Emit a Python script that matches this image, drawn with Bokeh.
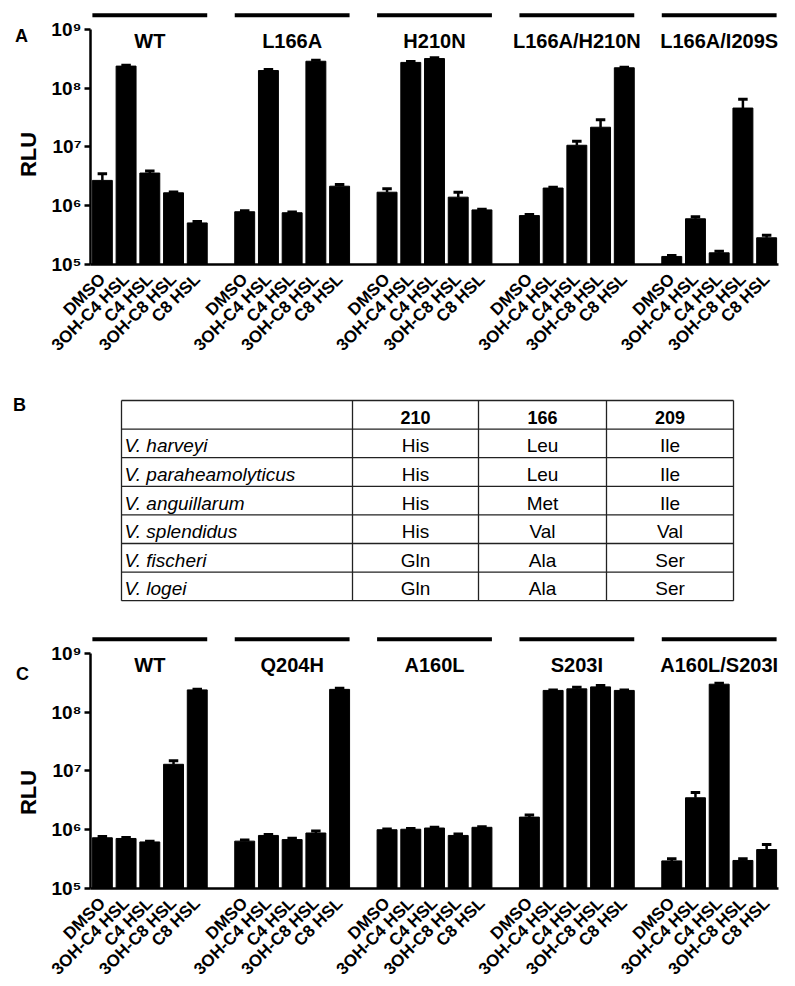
import math
from bokeh.plotting import figure
from bokeh.layouts import column, row
from bokeh.models import Range1d, FixedTicker, CustomJSTickFormatter
from bokeh.core.properties import value
from bokeh.embed import file_html
from bokeh.resources import INLINE

FONT = "Liberation Sans"

# ---------------- data ----------------
treatments = ["DMSO", "3OH-C4 HSL", "C4 HSL", "3OH-C8 HSL", "C8 HSL"]

groups_A = ["WT", "L166A", "H210N", "L166A/H210N", "L166A/I209S"]
A_WT = [2.7e6, 2.38e8, 3.6e6, 1.66e6, 5.1e5]
A_WT_top = [3.5e6, 2.45e8, 3.9e6, 1.72e6, 5.4e5]
A_L166A = [7.9e5, 2.0e8, 7.6e5, 2.88e8, 2.15e6]
A_L166A_top = [8.2e5, 2.08e8, 7.8e5, 2.98e8, 2.3e6]
A_H210N = [1.7e6, 2.75e8, 3.2e8, 1.4e6, 8.5e5]
A_H210N_top = [1.95e6, 2.85e8, 3.3e8, 1.7e6, 8.7e5]
A_L166A_H210N = [6.8e5, 2.0e6, 1.07e7, 2.17e7, 2.23e8]
A_L166A_H210N_top = [7.1e5, 2.06e6, 1.25e7, 2.9e7, 2.28e8]
A_L166A_I209S = [1.37e5, 6.0e5, 1.58e5, 4.6e7, 2.85e5]
A_L166A_I209S_top = [1.42e5, 6.5e5, 1.68e5, 6.5e7, 3.15e5]

groups_C = ["WT", "Q204H", "A160L", "S203I", "A160L/S203I"]
C_WT = [7.3e5, 7.1e5, 6.2e5, 1.3e7, 2.4e8]
C_WT_top = [7.7e5, 7.4e5, 6.4e5, 1.5e7, 2.45e8]
C_Q204H = [6.4e5, 8.0e5, 6.8e5, 8.8e5, 2.45e8]
C_Q204H_top = [6.7e5, 8.3e5, 7.2e5, 9.5e5, 2.55e8]
C_A160L = [1.0e6, 1.02e6, 1.07e6, 8.0e5, 1.1e6]
C_A160L_top = [1.03e6, 1.05e6, 1.1e6, 8.5e5, 1.13e6]
C_S203I = [1.64e6, 2.35e8, 2.5e8, 2.7e8, 2.35e8]
C_S203I_top = [1.78e6, 2.4e8, 2.65e8, 2.85e8, 2.4e8]
C_A160L_S203I = [2.95e5, 3.5e6, 3.0e8, 3.0e5, 4.6e5]
C_A160L_S203I_top = [3.2e5, 4.3e6, 3.1e8, 3.2e5, 5.6e5]

y_ticks = [1e5, 1e6, 1e7, 1e8, 1e9]
y_title = "RLU"

species = ["V. harveyi", "V. paraheamolyticus", "V. anguillarum",
           "V. splendidus", "V. fischeri", "V. logei"]
positions = ["210", "166", "209"]
res_210 = ["His", "His", "His", "His", "Gln", "Gln"]
res_166 = ["Leu", "Leu", "Met", "Val", "Ala", "Ala"]
res_209 = ["Ile", "Ile", "Ile", "Val", "Ser", "Ser"]

# ---------------- layout constants (pixels) ----------------
SIDE_W = 41          # strip holding panel letter and y title
BORDER_L = 49        # left border of main plots (tick labels)
FRAME_W = 688
BORDER_R = 9
FRAME_H = 256
Y_TOP_LOG = 9.357

SUP = CustomJSTickFormatter(code="""
const s = {'0':'\u2070','1':'\u00b9','2':'\u00b2','3':'\u00b3','4':'\u2074',
           '5':'\u2075','6':'\u2076','7':'\u2077','8':'\u2078','9':'\u2079'};
const e = Math.round(Math.log10(tick));
return '10' + String(e).split('').map(c => s[c]).join('');
""")


def blank(fig):
    fig.xgrid.visible = False
    fig.ygrid.visible = False
    fig.outline_line_color = None
    return fig


def side_strip(letter, height, letter_xy, title_xy):
    s = blank(figure(frame_width=SIDE_W, frame_height=height, min_border=0,
                     x_range=Range1d(0, SIDE_W), y_range=Range1d(height, 0),
                     x_axis_location=None, y_axis_location=None,
                     output_backend="svg", toolbar_location=None))
    s.text(x=[letter_xy[0]], y=[letter_xy[1]], text=[letter], text_align="center",
           text_baseline="middle", text_font=value(FONT), text_font_style="bold",
           text_font_size="18px", text_color="black")
    if title_xy is not None:
        s.text(x=[title_xy[0]], y=[title_xy[1]], text=[y_title], angle=math.pi / 2,
               text_align="center", text_baseline="middle", text_font=value(FONT),
               text_font_style="bold", text_font_size="22px", text_color="black")
    return s


def make_panel(groups, means, tops, top_border, bottom_border):
    nt = len(treatments)
    n_slots = len(groups) * (nt + 1) - 1
    p = blank(figure(frame_width=FRAME_W, frame_height=FRAME_H,
                     min_border_left=BORDER_L, min_border_right=BORDER_R,
                     min_border_top=top_border, min_border_bottom=bottom_border,
                     x_range=Range1d(-0.5, n_slots - 0.5),
                     y_range=Range1d(1e5, 10 ** Y_TOP_LOG),
                     y_axis_type="log", output_backend="svg", toolbar_location=None))
    xs, ys, yt, labels = [], [], [], {}
    for gi in range(len(groups)):
        for ti, t in enumerate(treatments):
            x = gi * (nt + 1) + ti
            xs.append(x)
            ys.append(means[gi][ti])
            yt.append(tops[gi][ti])
            labels[x] = t
    p.vbar(x=xs, top=ys, bottom=1e5, width=0.84, color="black")
    p.segment(x0=xs, y0=ys, x1=xs, y1=yt, line_width=2.5, line_color="black")
    p.segment(x0=[x - 0.2 for x in xs], y0=yt, x1=[x + 0.2 for x in xs], y1=yt,
              line_width=3, line_color="black")

    gx0 = [gi * (nt + 1) - 0.42 for gi in range(len(groups))]
    gx1 = [gi * (nt + 1) + nt - 1 + 0.42 for gi in range(len(groups))]
    gy = [10 ** 9.24] * len(groups)
    p.segment(x0=gx0, y0=gy, x1=gx1, y1=gy, line_width=4, line_color="black")
    p.text(x=[gi * (nt + 1) + (nt - 1) / 2 for gi in range(len(groups))],
           y=[10 ** 8.81] * len(groups), text=groups,
           text_align="center", text_baseline="middle",
           text_font=value(FONT), text_font_style="bold", text_font_size="20px",
           text_color="black")

    ya = p.yaxis[0]
    ya.ticker = FixedTicker(ticks=y_ticks)
    ya.formatter = SUP
    ya.bounds = (1e5, 1e9)
    ya.axis_line_width = 2.5
    ya.major_tick_line_width = 2.5
    ya.major_tick_out = 6
    ya.major_tick_in = 0
    ya.minor_tick_line_color = None
    ya.major_label_text_font = FONT
    ya.major_label_text_font_style = "bold"
    ya.major_label_text_font_size = "19px"
    ya.major_label_text_color = "black"
    ya.major_label_standoff = 3

    xa = p.xaxis[0]
    xa.ticker = FixedTicker(ticks=xs)
    xa.major_label_overrides = labels
    xa.major_label_orientation = math.pi / 4
    xa.major_tick_line_color = None
    xa.minor_tick_line_color = None
    xa.axis_line_width = 2.5
    xa.major_label_text_font = FONT
    xa.major_label_text_font_style = "bold"
    xa.major_label_text_font_size = "17px"
    xa.major_label_text_color = "black"
    xa.major_label_standoff = 6
    return p


HA = 8 + FRAME_H + 106
pA = make_panel(groups_A,
                [A_WT, A_L166A, A_H210N, A_L166A_H210N, A_L166A_I209S],
                [A_WT_top, A_L166A_top, A_H210N_top, A_L166A_H210N_top, A_L166A_I209S_top],
                8, 106)
sA = side_strip("A", HA, (21, 27), (28, 146))

HC = 22 + FRAME_H + 96
pC = make_panel(groups_C,
                [C_WT, C_Q204H, C_A160L, C_S203I, C_A160L_S203I],
                [C_WT_top, C_Q204H_top, C_A160L_top, C_S203I_top, C_A160L_S203I_top],
                22, 96)
sC = side_strip("C", HC, (22, 41), (28, 160))

# ---------------- table panel (page pixel coordinates) ----------------
HB = 240
Y0 = HA  # page y of table panel top
X_LEFT = SIDE_W + BORDER_L
pB = blank(figure(frame_width=FRAME_W, frame_height=HB,
                  min_border_left=BORDER_L, min_border_right=BORDER_R,
                  min_border_top=0, min_border_bottom=0,
                  x_range=Range1d(X_LEFT, X_LEFT + FRAME_W), y_range=Range1d(Y0 + HB, Y0),
                  x_axis_location=None, y_axis_location=None,
                  output_backend="svg", toolbar_location=None))
sB = side_strip("B", HB, (19, 34), None)

T_TOP, ROW_H = Y0 + 30, 28.6
COL_EDGES = [121, 352, 478, 606, 733]
n_rows = len(species) + 1
hy = [T_TOP + k * ROW_H for k in range(n_rows + 1)]
pB.segment(x0=[COL_EDGES[0]] * len(hy), y0=hy, x1=[COL_EDGES[-1]] * len(hy), y1=hy,
           line_width=1.3, line_color="#222222")
pB.segment(x0=COL_EDGES, y0=[hy[0]] * len(COL_EDGES), x1=COL_EDGES,
           y1=[hy[-1]] * len(COL_EDGES), line_width=1.3, line_color="#222222")

col_centers = [(COL_EDGES[i] + COL_EDGES[i + 1]) / 2 for i in range(1, 4)]
pB.text(x=col_centers, y=[(hy[0] + hy[1]) / 2 + 2.5] * 3, text=positions,
        text_align="center", text_baseline="middle", text_font=value(FONT),
        text_font_style="bold", text_font_size="18px", text_color="black")
row_mid = [(hy[k + 1] + hy[k + 2]) / 2 + 2.5 for k in range(len(species))]
pB.text(x=[COL_EDGES[0] + 3] * len(species), y=row_mid, text=species, text_align="left",
        text_baseline="middle", text_font=value(FONT), text_font_style="italic",
        text_font_size="19px", text_color="black")
for ci, col in enumerate([res_210, res_166, res_209]):
    pB.text(x=[col_centers[ci]] * len(col), y=row_mid, text=col, text_align="center",
            text_baseline="middle", text_font=value(FONT), text_font_size="19px",
            text_color="black")

layout = column(row(sA, pA), row(sB, pB), row(sC, pC))
open("out.html", "w").write(file_html(layout, INLINE))
